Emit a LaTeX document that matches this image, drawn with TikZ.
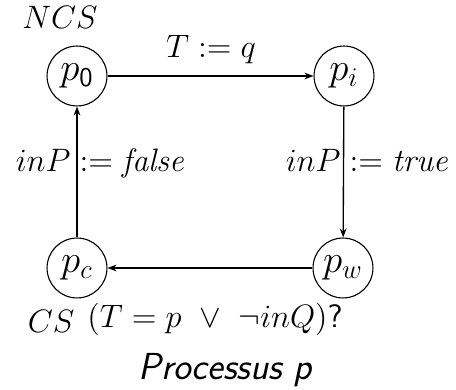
\documentclass[tikz,border=0pt]{standalone}
\usetikzlibrary{arrows.meta}
\begin{document}
\begin{tikzpicture}[x=0.444pt,y=-0.444pt,
  state/.style={circle,draw,line width=0.5pt,minimum size=26.6pt,inner sep=0pt,font=\fontsize{17.28}{20}\selectfont},
  lab/.style={inner sep=0pt,font=\fontsize{14.4}{17}\selectfont},
  conn/.style={line width=0.6pt,-{Stealth[length=4pt,width=3pt]}}]
\useasboundingbox (0,0) rectangle (456,390);
\node[state] (p0) at (77,76) {$p_{\mathsf{0}}$};
\node[state] (pi) at (344,76) {$p_i$};
\node[state] (pc) at (77,268) {$p_c$};
\node[state] (pw) at (343,268) {$p_w$};
\node[lab,anchor=base] (ncs) at (60,29) {$NCS$};
\node[lab,anchor=base] (cs) at (51,333) {$CS$};
\draw[conn] (p0) -- (pi);
\node[lab,anchor=base] (t1) at (211,58) {$T := q$};
\draw[conn] (pi) -- (pw);
\node[lab,anchor=base] (t2) at (368,172) {$inP := \mathit{true}$};
\draw[conn] (pc) -- (p0);
\node[lab,anchor=base] (t3) at (101,172) {$inP := \mathit{false}$};
\draw[conn] (pw) -- (pc);
\node[lab,anchor=base] (t4) at (215,328) {$(T = p\ \vee\ \neg inQ)$\textsf{?}};
\node[lab,anchor=base,font=\fontsize{16.7}{20}\selectfont] (t5) at (226,380) {\textsf{\itshape Processus p}};
\end{tikzpicture}
\end{document}
